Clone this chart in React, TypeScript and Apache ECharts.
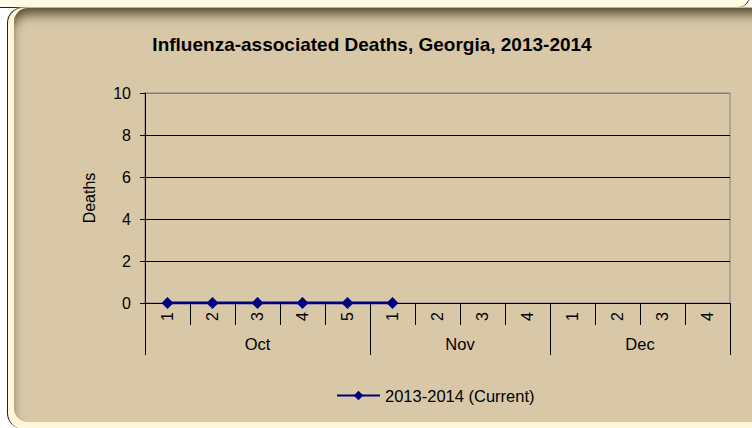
import React, { useEffect, useRef } from "react";
import * as echarts from "echarts";

const weekLabels = ["1", "2", "3", "4", "5", "1", "2", "3", "4", "1", "2", "3", "4"];
const months = ["Oct", "Nov", "Dec"];
const weeksPerMonth = [5, 4, 4];
const deaths: (number | null)[] = [0, 0, 0, 0, 0, 0, null, null, null, null, null, null, null];
const yTicks = { min: 0, max: 10, interval: 2 };
const seriesName = "2013-2014 (Current)";
const titleText = "Influenza-associated Deaths, Georgia, 2013-2014";

const FONT = "'Liberation Sans', Arial, sans-serif";

// Month axis built from the data above: half-week slots with labels at month centres.
const totalHalf = weekLabels.length * 2;
const monthSlots: string[] = Array.from({ length: totalHalf + 1 }, () => "");
const boundarySlots = new Set<number>([0]);
{
  let start = 0;
  months.forEach((m, i) => {
    const w = weeksPerMonth[i];
    monthSlots[start * 2 + w] = m;
    start += w;
    boundarySlots.add(start * 2);
  });
}

export default function App() {
  const ref = useRef<HTMLDivElement>(null);

  useEffect(() => {
    if (!ref.current) return;
    const chart = echarts.init(ref.current, null, { renderer: "svg" });
    chart.setOption({
      animation: false,
      backgroundColor: "transparent",
      title: {
        text: titleText,
        left: 367,
        textAlign: "center",
        top: 30,
        textStyle: { fontFamily: FONT, fontSize: 19, fontWeight: "bold", color: "#000" },
      },
      legend: {
        left: 331,
        top: 382,
        itemWidth: 43,
        itemHeight: 12,
        itemGap: 5,
        textStyle: { fontFamily: FONT, fontSize: 16.5, color: "#000" },
        data: [seriesName],
      },
      grid: {
        left: 145,
        right: 22,
        top: 93,
        bottom: 125,
        show: true,
        borderColor: "#808080",
        borderWidth: 1,
        backgroundColor: "transparent",
      },
      xAxis: [
        {
          type: "category",
          data: weekLabels,
          boundaryGap: true,
          position: "bottom",
          axisLine: { show: true, lineStyle: { color: "#000", width: 1 } },
          axisTick: { show: true, length: 22, lineStyle: { color: "#000" } },
          axisLabel: {
            rotate: 90,
            interval: 0,
            margin: 9,
            fontFamily: FONT,
            fontSize: 16,
            color: "#000",
          },
          splitLine: { show: false },
        },
        {
          type: "category",
          data: monthSlots,
          boundaryGap: false,
          position: "bottom",
          axisLine: { show: false },
          axisTick: {
            show: true,
            length: 52,
            interval: (index: number) => boundarySlots.has(index),
            lineStyle: { color: "#000" },
          },
          axisLabel: {
            interval: 0,
            margin: 32,
            fontFamily: FONT,
            fontSize: 16.5,
            color: "#000",
          },
          splitLine: { show: false },
        },
      ],
      yAxis: {
        type: "value",
        min: yTicks.min,
        max: yTicks.max,
        interval: yTicks.interval,
        name: "Deaths",
        nameLocation: "middle",
        nameGap: 48,
        nameRotate: 90,
        nameTextStyle: { fontFamily: FONT, fontSize: 16, color: "#000" },
        axisLine: { show: true, lineStyle: { color: "#000" } },
        axisTick: { show: true, length: 5, lineStyle: { color: "#000" } },
        axisLabel: { margin: 14, fontFamily: FONT, fontSize: 16, color: "#000" },
        splitLine: {
          show: true,
          lineStyle: { color: ["#000", "#000", "#000", "#000", "#000", "#808080"], width: 1 },
        },
      },
      series: [
        {
          name: seriesName,
          type: "line",
          xAxisIndex: 0,
          data: deaths,
          symbol: "diamond",
          symbolSize: 12,
          connectNulls: false,
          lineStyle: { color: "#000080", width: 3 },
          itemStyle: { color: "#000080" },
        },
      ],
    });
    return () => chart.dispose();
  }, []);

  return (
    <div
      style={{
        position: "fixed",
        left: 0,
        top: 0,
        width: 752,
        height: 428,
        overflow: "hidden",
        background: "#ffffff",
      }}
    >
      {/* top cream panel */}
      <div
        style={{
          position: "absolute",
          left: -20,
          top: -30,
          width: 768,
          height: 36,
          border: "1px solid #222",
          borderRadius: 12,
          background: "#FFFBE6",
        }}
      />
      {/* main panel */}
      <div
        style={{
          position: "absolute",
          left: 7,
          top: 7,
          width: 790,
          height: 421,
          borderLeft: "1px solid #1a1a1a",
          borderTop: "1px solid #1a1a1a",
          borderRadius: 16,
          background: "#FFF8DC",
        }}
      />
      <div
        style={{
          position: "absolute",
          left: 14,
          top: 8,
          width: 780,
          height: 414,
          borderRadius: 14,
          background: "#D8C8A8",
          boxShadow:
            "inset 0 9px 12px -3px rgba(70,64,38,0.95), 0 0 5px 2px #FFF4D0",
        }}
      />
      <div ref={ref} style={{ position: "absolute", left: 0, top: 0, width: 752, height: 428 }} />
    </div>
  );
}
